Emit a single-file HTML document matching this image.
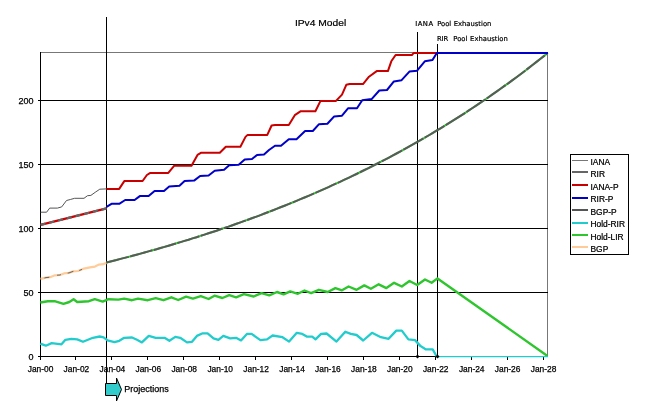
<!DOCTYPE html>
<html><head><meta charset="utf-8"><title>IPv4 Model</title>
<style>
html,body{margin:0;padding:0;background:#fff;}
body{width:656px;height:408px;overflow:hidden;}
svg{display:block;}
text{font-family:"Liberation Sans",Arial,sans-serif;fill:#000;}
.ax{font-size:8.4px;stroke:#000;stroke-width:0.25px;}
.lg{font-size:8.8px;stroke:#000;stroke-width:0.25px;}
.an{font-family:"DejaVu Sans","Liberation Sans",sans-serif;font-size:6.8px;stroke:#000;stroke-width:0.2px;}
.g{stroke:#000;stroke-width:1;shape-rendering:crispEdges;fill:none;}
.s{fill:none;stroke-linejoin:round;stroke-linecap:butt;}
</style></head><body>
<svg width="656" height="408" viewBox="0 0 656 408">
<rect width="656" height="408" fill="#fff"/>
<!-- plot frame -->
<g class="g">
<line x1="40.5" y1="52.5" x2="548" y2="52.5" stroke="#777"/>
<line x1="547.5" y1="52.5" x2="547.5" y2="356.5" stroke="#777"/>
<line x1="38" y1="100.5" x2="548" y2="100.5"/>
<line x1="38" y1="164.5" x2="548" y2="164.5"/>
<line x1="38" y1="228.5" x2="548" y2="228.5"/>
<line x1="38" y1="292.5" x2="548" y2="292.5"/>
<line x1="38" y1="356.5" x2="548" y2="356.5"/>
<line x1="40.5" y1="52" x2="40.5" y2="360"/>
<line x1="75.5" y1="356" x2="75.5" y2="360"/><line x1="111.5" y1="356" x2="111.5" y2="360"/><line x1="147.5" y1="356" x2="147.5" y2="360"/><line x1="183.5" y1="356" x2="183.5" y2="360"/><line x1="219.5" y1="356" x2="219.5" y2="360"/><line x1="255.5" y1="356" x2="255.5" y2="360"/><line x1="291.5" y1="356" x2="291.5" y2="360"/><line x1="327.5" y1="356" x2="327.5" y2="360"/><line x1="363.5" y1="356" x2="363.5" y2="360"/><line x1="399.5" y1="356" x2="399.5" y2="360"/><line x1="435.5" y1="356" x2="435.5" y2="360"/><line x1="471.5" y1="356" x2="471.5" y2="360"/><line x1="507.5" y1="356" x2="507.5" y2="360"/><line x1="543.5" y1="356" x2="543.5" y2="360"/>
<line x1="106.5" y1="17" x2="106.5" y2="384"/>
<line x1="417.5" y1="32" x2="417.5" y2="357"/>
<line x1="437.5" y1="44" x2="437.5" y2="357"/>
</g>
<!-- series -->
<polyline class="s" points="40.5,278.9 46.0,277.6 50.0,277.2 55.0,275.3 60.0,275.0 64.0,273.4 69.0,272.9 73.0,271.4 78.0,271.0 84.0,268.6 90.0,267.3 95.0,266.6 99.0,264.6 103.0,264.2 106.5,262.9" stroke="#fc9" stroke-width="2.2"/>
<polyline class="s" points="40.5,278.9 46.0,277.6 50.0,277.2 55.0,275.3 60.0,275.0 64.0,273.4 69.0,272.9 73.0,271.4 78.0,271.0 84.0,268.6 90.0,267.3 95.0,266.6 99.0,264.6 103.0,264.2 106.5,262.9" stroke="#666" stroke-width="1" stroke-dasharray="0 4 5 8 4 7 6 6 3 30"/>
<polyline class="s" points="106.5,262.5 108.5,262.0 112.5,261.0 116.5,260.0 120.5,258.9 124.5,257.9 128.5,256.9 132.5,255.8 136.5,254.7 140.5,253.6 144.5,252.5 148.5,251.4 152.5,250.3 156.5,249.2 160.5,248.0 164.5,246.9 168.5,245.7 172.5,244.5 176.5,243.3 180.5,242.1 184.5,240.9 188.5,239.7 192.5,238.4 196.5,237.2 200.5,235.9 204.5,234.6 208.5,233.3 212.5,232.0 216.5,230.7 220.5,229.3 224.5,227.9 228.5,226.6 232.5,225.2 236.5,223.8 240.5,222.4 244.5,220.9 248.5,219.5 252.5,218.0 256.5,216.6 260.5,215.1 264.5,213.5 268.5,212.0 272.5,210.5 276.5,208.9 280.5,207.3 284.5,205.7 288.5,204.1 292.5,202.5 296.5,200.9 300.5,199.2 304.5,197.5 308.5,195.8 312.5,194.1 316.5,192.4 320.5,190.6 324.5,188.8 328.5,187.1 332.5,185.2 336.5,183.4 340.5,181.6 344.5,179.7 348.5,177.8 352.5,175.9 356.5,174.0 360.5,172.0 364.5,170.0 368.5,168.1 372.5,166.0 376.5,164.0 380.5,161.9 384.5,159.9 388.5,157.8 392.5,155.6 396.5,153.5 400.5,151.3 404.5,149.1 408.5,146.9 412.5,144.7 416.5,142.4 420.5,140.1 424.5,137.8 428.5,135.5 432.5,133.1 436.5,130.7 440.5,128.3 444.5,125.9 448.5,123.4 452.5,120.9 456.5,118.4 460.5,115.8 464.5,113.3 468.5,110.7 472.5,108.0 476.5,105.4 480.5,102.7 484.5,100.0 488.5,97.2 492.5,94.4 496.5,91.6 500.5,88.8 504.5,85.9 508.5,83.1 512.5,80.1 516.5,77.2 520.5,74.2 524.5,71.2 528.5,68.1 532.5,65.0 536.5,61.9 540.5,58.8 544.5,55.6 547.7,53.0" stroke="#3c3" stroke-width="2"/>
<polyline class="s" points="106.5,262.5 108.5,262.0 112.5,261.0 116.5,260.0 120.5,258.9 124.5,257.9 128.5,256.9 132.5,255.8 136.5,254.7 140.5,253.6 144.5,252.5 148.5,251.4 152.5,250.3 156.5,249.2 160.5,248.0 164.5,246.9 168.5,245.7 172.5,244.5 176.5,243.3 180.5,242.1 184.5,240.9 188.5,239.7 192.5,238.4 196.5,237.2 200.5,235.9 204.5,234.6 208.5,233.3 212.5,232.0 216.5,230.7 220.5,229.3 224.5,227.9 228.5,226.6 232.5,225.2 236.5,223.8 240.5,222.4 244.5,220.9 248.5,219.5 252.5,218.0 256.5,216.6 260.5,215.1 264.5,213.5 268.5,212.0 272.5,210.5 276.5,208.9 280.5,207.3 284.5,205.7 288.5,204.1 292.5,202.5 296.5,200.9 300.5,199.2 304.5,197.5 308.5,195.8 312.5,194.1 316.5,192.4 320.5,190.6 324.5,188.8 328.5,187.1 332.5,185.2 336.5,183.4 340.5,181.6 344.5,179.7 348.5,177.8 352.5,175.9 356.5,174.0 360.5,172.0 364.5,170.0 368.5,168.1 372.5,166.0 376.5,164.0 380.5,161.9 384.5,159.9 388.5,157.8 392.5,155.6 396.5,153.5 400.5,151.3 404.5,149.1 408.5,146.9 412.5,144.7 416.5,142.4 420.5,140.1 424.5,137.8 428.5,135.5 432.5,133.1 436.5,130.7 440.5,128.3 444.5,125.9 448.5,123.4 452.5,120.9 456.5,118.4 460.5,115.8 464.5,113.3 468.5,110.7 472.5,108.0 476.5,105.4 480.5,102.7 484.5,100.0 488.5,97.2 492.5,94.4 496.5,91.6 500.5,88.8 504.5,85.9 508.5,83.1 512.5,80.1 516.5,77.2 520.5,74.2 524.5,71.2 528.5,68.1 532.5,65.0 536.5,61.9 540.5,58.8 544.5,55.6 547.7,53.0" stroke="#5a5a5a" stroke-width="2" stroke-dasharray="23 1.5"/>
<polyline class="s" points="40.3,302.5 47.8,301.2 54.6,301.2 63.5,303.9 69.3,302.0 73.6,299.2 77.2,302.0 88.9,301.2 94.8,299.2 102.7,301.6 108.5,299.2 118.4,299.6 124.2,298.6 132.0,300.2 138.0,298.6 147.8,300.2 155.7,298.2 163.5,300.2 171.4,297.3 178.2,300.0 186.1,296.7 192.9,298.6 200.8,296.1 208.6,299.0 214.5,295.7 222.4,298.0 229.2,295.1 236.1,297.3 243.9,294.1 253.8,296.5 261.5,293.1 269.3,295.4 277.0,292.0 283.6,294.3 290.2,291.4 297.9,293.8 304.5,290.5 311.1,293.1 318.9,289.8 327.7,292.0 335.4,288.1 342.0,290.3 348.6,286.5 356.6,289.8 364.3,285.4 370.9,288.7 378.7,284.3 386.4,288.1 394.1,282.8 401.8,286.5 409.5,281.0 417.2,285.0 425.0,279.5 431.6,282.8 437.5,278.4 547.5,356.0" stroke="#2fc52f" stroke-width="2.4"/>
<polyline class="s" points="40.3,343.7 45.8,345.7 51.7,343.1 61.5,344.3 65.4,339.8 71.3,338.8 77.2,339.4 83.0,341.8 92.9,337.8 99.7,336.5 103.6,337.3 107.6,340.4 114.4,342.2 119.3,340.8 124.2,337.8 132.0,337.5 137.0,339.8 141.9,342.4 148.8,335.9 155.7,337.8 164.5,337.8 169.4,340.8 175.3,336.9 180.2,337.8 187.0,342.4 192.0,341.8 196.9,335.9 202.7,333.3 207.6,333.3 213.5,338.4 218.4,339.8 223.3,335.9 230.2,338.4 236.1,337.8 241.0,340.4 246.9,333.9 251.6,333.9 260.4,340.1 267.0,339.4 272.6,335.5 282.5,337.2 289.1,341.6 296.8,332.8 302.3,333.9 306.7,336.6 312.2,336.6 315.5,339.4 321.1,333.9 326.6,333.5 336.5,341.6 345.3,331.7 350.8,333.9 356.6,335.0 363.2,340.5 372.0,332.8 380.9,337.2 388.6,338.8 396.3,330.6 401.8,330.6 408.4,339.4 415.0,340.1 420.5,346.1 426.0,349.4 432.7,349.4 436.6,356.3" stroke="#2cc" stroke-width="2.3"/>
<line x1="436.5" y1="356.6" x2="548" y2="356.6" stroke="#2cc" stroke-width="1.4"/>
<polyline class="s" points="40.6,212.2 46.6,212.2 49.7,208.1 57.4,208.1 61.7,206.9 66.5,200.5 70.3,199.5 74.6,198.3 84.0,198.3 87.5,195.7 90.9,195.4 95.2,192.3 99.8,189.2 106.5,188.9" stroke="#555" stroke-width="1"/>
<polyline class="s" points="40.6,224.9 106.5,208.4" stroke="#c00" stroke-width="2.2"/>
<polyline class="s" points="40.6,224.9 106.5,208.4" stroke="#666" stroke-width="2.2" stroke-dasharray="5 4"/>
<polyline class="s" points="106.5,188.9 119.2,188.9 124.3,181.1 142.6,181.0 146.9,175.0 150.3,172.9 168.3,172.9 174.3,165.7 191.5,165.7 197.5,154.9 200.9,152.8 219.8,152.8 225.8,146.8 240.4,146.8 245.5,136.9 247.6,134.9 267.3,134.9 271.6,125.5 275.0,125.0 288.8,125.0 294.8,115.2 300.8,111.2 315.4,111.2 320.5,100.9 336.0,100.9 342.0,94.6 346.3,84.8 349.7,84.0 363.0,84.1 369.0,76.7 376.7,71.1 387.9,71.1 391.3,61.3 395.6,55.0 411.9,55.0 413.6,53.1 437.0,53.1" stroke="#c80000" stroke-width="2"/>
<polyline class="s" points="106.5,206.9 111.5,203.8 119.2,203.8 125.2,200.0 134.6,200.0 139.8,196.1 148.6,196.1 154.6,190.9 164.0,190.9 169.2,186.6 179.5,185.8 184.6,181.1 194.1,180.6 200.1,176.0 208.6,175.5 214.7,170.8 224.1,169.8 229.2,165.2 238.7,164.8 244.7,159.5 252.0,159.0 257.0,155.0 264.0,154.5 269.0,150.0 275.0,145.7 281.0,145.7 288.8,139.2 296.5,139.2 305.1,131.0 312.8,131.0 318.8,124.3 327.4,123.8 334.2,116.4 342.0,115.7 348.0,108.3 357.0,108.2 362.2,100.3 371.6,99.1 379.3,90.5 387.0,90.0 393.9,81.4 401.6,80.2 409.4,71.6 417.1,70.7 424.8,61.3 432.5,60.1 436.8,53.1 548.0,53.1" stroke="#0000c8" stroke-width="2"/>
<path d="M415.5 356.5 l2-2 l2 2 l-2 2z M435.5 356.5 l2-2 l2 2 l-2 2z" fill="#000"/>
<!-- title & annotations -->
<text transform="translate(320.6 26) scale(1.07 1)" text-anchor="middle" font-size="9.6" stroke="#000" stroke-width="0.2">IPv4 Model</text>
<text class="an" x="415.2" y="25.5"><tspan letter-spacing="0.5">IANA</tspan> <tspan x="437.2">Pool</tspan> <tspan x="453.7">Exhaustion</tspan></text>
<text class="an" x="436.9" y="40.5">RIR <tspan x="453.3">Pool</tspan> <tspan x="470.1">Exhaustion</tspan></text>
<!-- y labels -->
<g class="ax" text-anchor="end" style="font-size:9px">
<text x="33.5" y="103.8">200</text><text x="33.5" y="167.8">150</text><text x="33.5" y="231.8">100</text><text x="33.5" y="295.8">50</text><text x="33.5" y="359.8">0</text>
</g>
<g class="ax" text-anchor="middle">
<text x="40.5" y="372.2">Jan-00</text><text x="76.4" y="372.2">Jan-02</text><text x="112.4" y="372.2">Jan-04</text><text x="148.3" y="372.2">Jan-06</text><text x="184.2" y="372.2">Jan-08</text><text x="220.2" y="372.2">Jan-10</text><text x="256.1" y="372.2">Jan-12</text><text x="292.0" y="372.2">Jan-14</text><text x="327.9" y="372.2">Jan-16</text><text x="363.9" y="372.2">Jan-18</text><text x="399.8" y="372.2">Jan-20</text><text x="435.7" y="372.2">Jan-22</text><text x="471.7" y="372.2">Jan-24</text><text x="507.6" y="372.2">Jan-26</text><text x="543.5" y="372.2">Jan-28</text>
</g>
<!-- projections arrow -->
<path d="M105.5 383.5 H116.5 V378 L121.5 389.5 L116.5 401 V395.5 H105.5Z" fill="#3cc" stroke="#000" stroke-width="1"/>
<text x="124.3" y="391.6" font-size="9" stroke="#000" stroke-width="0.25">Projections</text>
<!-- legend -->
<rect x="570.5" y="154.5" width="58" height="100" fill="#fff" stroke="#000" stroke-width="1" shape-rendering="crispEdges"/>
<g shape-rendering="crispEdges">
<line x1="572" x2="588" y1="160.5" y2="160.5" stroke="#777" stroke-width="1"/>
<line x1="572" x2="588" y1="172" y2="172" stroke="#666" stroke-width="2"/>
<line x1="572" x2="588" y1="185" y2="185" stroke="#c80000" stroke-width="2"/>
<line x1="572" x2="588" y1="198" y2="198" stroke="#0000c8" stroke-width="2"/>
<line x1="572" x2="588" y1="210" y2="210" stroke="#555" stroke-width="2"/>
<line x1="572" x2="588" y1="223" y2="223" stroke="#2cc" stroke-width="2"/>
<line x1="572" x2="588" y1="235" y2="235" stroke="#2fc52f" stroke-width="2"/>
<line x1="572" x2="588" y1="247" y2="247" stroke="#fc9" stroke-width="2"/>
</g>
<g class="lg" transform="translate(590.5 0) scale(0.955 1)">
<text x="0" y="164.8">IANA</text>
<text x="0" y="177.3">RIR</text>
<text x="0" y="189.8">IANA-P</text>
<text x="0" y="202.4">RIR-P</text>
<text x="0" y="214.8">BGP-P</text>
<text x="0" y="227.5">Hold-RIR</text>
<text x="0" y="239.6">Hold-LIR</text>
<text x="0" y="252.3">BGP</text>
</g>
</svg>
</body></html>
